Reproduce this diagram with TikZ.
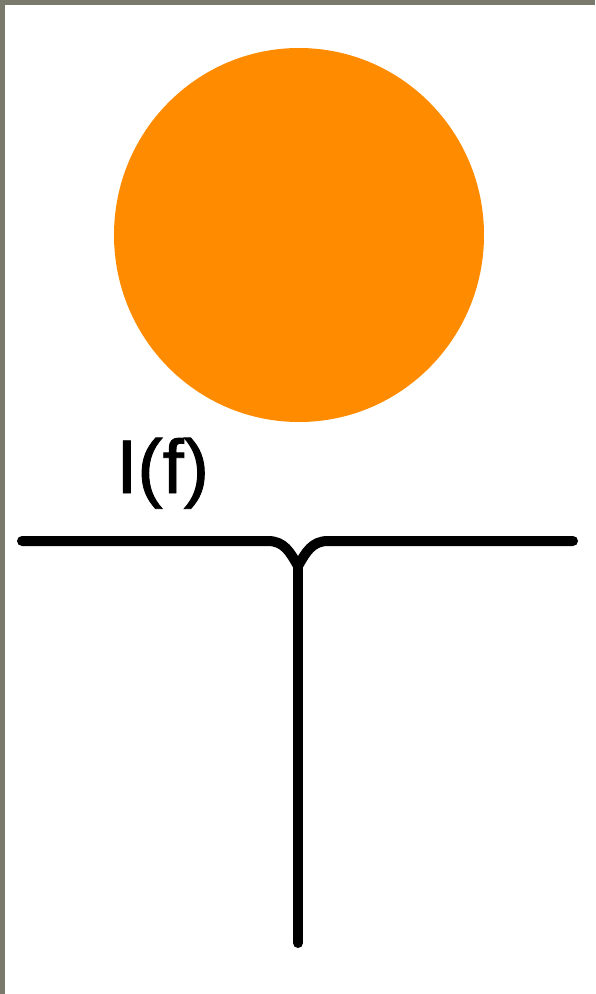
\documentclass[tikz,border=0pt]{standalone}
\usepackage{fontspec}
\newfontfamily\lblfont[FakeBold=1.2]{Liberation Sans}
\definecolor{frame}{RGB}{122,122,108}
\definecolor{orangefill}{RGB}{255,140,0}
\begin{document}
\begin{tikzpicture}[x=1pt,y=-1pt,
  branch/.style={line width=10pt,line cap=round,line join=round,black}]
\useasboundingbox (0,0) rectangle (595,994);
\fill[frame] (0,0) rectangle (595,994);
\fill[white] (5,5) rectangle (595,994);
\fill[orangefill] (299,235) ellipse [x radius=185, y radius=187];
\node[font=\lblfont\fontsize{76}{90}\selectfont, anchor=base west, inner sep=0pt] (lbl) at (116,493) {I(f)};
\coordinate (L) at (22,541);
\coordinate (R) at (573,541);
\coordinate (J) at (298,566);
\coordinate (B) at (298,943);
\draw[branch] (L) -- (268,541) .. controls (284,541) and (290,552) .. (J);
\draw[branch] (R) -- (328,541) .. controls (312,541) and (306,552) .. (J);
\draw[branch] (J) -- (B);
\end{tikzpicture}
\end{document}
